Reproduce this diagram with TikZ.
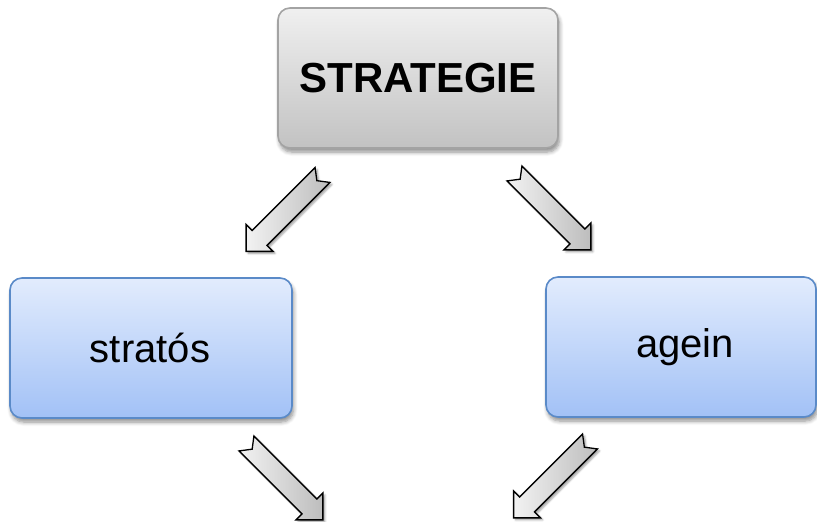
\documentclass[tikz,border=0pt]{standalone}
\usepackage{fontspec}
\setmainfont{Liberation Sans}
\usetikzlibrary{shadows.blur}
\definecolor{grayedge}{HTML}{A3A3A3}
\definecolor{graytop}{HTML}{F0F0F0}
\definecolor{graybot}{HTML}{C2C2C2}
\definecolor{blueedge}{HTML}{5A8AC8}
\definecolor{bluetop}{HTML}{E2ECFD}
\definecolor{bluebot}{HTML}{A2C1F6}
\definecolor{arrtop}{HTML}{F2F2F2}
\definecolor{arrbot}{HTML}{BDBDBD}
\tikzset{
  boxshadow/.style={blur shadow={shadow xshift=1.5pt, shadow yshift=-4pt, shadow blur steps=6, shadow blur radius=4pt, shadow opacity=45}},
  graybox/.style={rectangle, rounded corners=12pt, draw=grayedge, line width=1.6pt,
    top color=graytop, bottom color=graybot, boxshadow, inner sep=0pt},
  bluebox/.style={rectangle, rounded corners=12pt, draw=blueedge, line width=1.6pt,
    top color=bluetop, bottom color=bluebot, boxshadow, inner sep=0pt},
  blockarrow/.style={draw=black, line width=1.3pt, line join=miter, left color=arrtop, right color=arrbot,
    blur shadow={shadow xshift=2pt, shadow yshift=-2pt, shadow blur steps=4, shadow blur radius=2pt, shadow opacity=40}},
}
% #1 name, #2 tail midpoint, #3 angle
\newcommand\blockarr[3]{%
  \begin{scope}[shift={#2}, rotate=#3]
    \coordinate (#1-tail) at (0,0);
    \coordinate (#1-tip) at (108,0);
    \draw[blockarrow] (0,10.5) -- (89,10.5) -- (89,19) -- (#1-tip) -- (89,-19) -- (89,-10.5) -- (0,-10.5) -- (8,0) -- cycle;
  \end{scope}}
\begin{document}
\begin{tikzpicture}[x=1pt, y=-1pt]
\useasboundingbox (0,0) rectangle (817,522);
\node[graybox, minimum width=280pt, minimum height=140pt] (strat) at (418,78) {};
\node[font=\bfseries\fontsize{42}{48}\selectfont] (strattext) at (418,78) {STRATEGIE};
\node[bluebox, minimum width=282pt, minimum height=140pt] (stratos) at (151,348) {};
\node[font=\fontsize{40}{46}\selectfont] (stratostext) at (150,348) {stratós};
\node[bluebox, minimum width=270pt, minimum height=140pt] (agein) at (681,347) {};
\node[font=\fontsize{40}{46}\selectfont] (ageintext) at (685,347) {agein};
\blockarr{a1}{(322.5,175)}{-135}
\blockarr{a2}{(514.5,173.5)}{-45}
\blockarr{a3}{(246.5,443.5)}{-45}
\blockarr{a4}{(590,441.5)}{-135}
\end{tikzpicture}
\end{document}
